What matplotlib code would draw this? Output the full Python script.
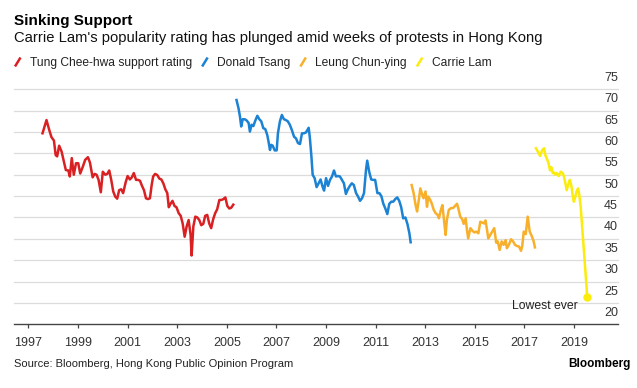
import matplotlib.pyplot as plt
from matplotlib.lines import Line2D

W, H = 637, 388

tung_years = [1997.57, 1997.73, 1997.84, 1997.93, 1998.03, 1998.10, 1998.16, 1998.24, 1998.34, 1998.43,
              1998.51, 1998.61, 1998.67, 1998.75, 1998.83, 1998.92, 1999.01, 1999.09, 1999.19, 1999.29,
              1999.40, 1999.48, 1999.59, 1999.67, 1999.75, 1999.83, 1999.92, 2000.00, 2000.10, 2000.18,
              2000.26, 2000.34, 2000.42, 2000.50, 2000.58, 2000.66, 2000.74, 2000.82, 2000.92, 2001.00,
              2001.09, 2001.17, 2001.25, 2001.34, 2001.42, 2001.50, 2001.58, 2001.66, 2001.74, 2001.82,
              2001.90, 2001.97, 2002.03, 2002.11, 2002.20, 2002.28, 2002.36, 2002.44, 2002.52, 2002.60,
              2002.66, 2002.73, 2002.81, 2002.89, 2002.97, 2003.06, 2003.14, 2003.22, 2003.30, 2003.38,
              2003.46, 2003.54, 2003.58, 2003.65, 2003.73, 2003.81, 2003.89, 2003.97, 2004.05, 2004.13,
              2004.21, 2004.29, 2004.37, 2004.45, 2004.53, 2004.61, 2004.70, 2004.78, 2004.86, 2004.94,
              2005.02, 2005.10, 2005.18, 2005.26]
tung_rating = [64.7, 67.8, 65.5, 63.8, 63.0, 59.6, 59.3, 61.8, 60.4, 58.1,
               56.1, 56.0, 54.6, 58.9, 55.0, 57.7, 57.7, 55.3, 56.8, 58.5,
               59.1, 57.9, 54.4, 55.2, 55.0, 53.8, 50.9, 55.7, 55.0, 55.2,
               56.0, 53.8, 51.1, 49.9, 49.4, 51.4, 51.6, 50.7, 53.2, 54.7,
               53.9, 54.4, 55.4, 53.8, 53.8, 53.6, 52.4, 51.4, 49.5, 49.3,
               49.5, 52.6, 54.6, 55.2, 54.9, 54.1, 53.9, 53.0, 51.6, 50.7,
               47.4, 48.2, 48.9, 47.7, 47.4, 46.0, 45.4, 43.6, 40.5, 42.9,
               44.4, 40.9, 36.1, 42.9, 45.2, 45.0, 44.4, 43.2, 43.5, 45.4,
               45.6, 43.6, 42.5, 44.6, 46.0, 46.9, 49.1, 49.1, 49.3, 49.7,
               47.7, 47.1, 47.3, 48.0]

tsang_years = [2005.39, 2005.47, 2005.53, 2005.58, 2005.64, 2005.72, 2005.80, 2005.88, 2005.93, 2006.00,
               2006.07, 2006.15, 2006.23, 2006.31, 2006.39, 2006.47, 2006.55, 2006.63, 2006.68, 2006.74,
               2006.79, 2006.85, 2006.93, 2007.01, 2007.06, 2007.14, 2007.22, 2007.30, 2007.38, 2007.46,
               2007.54, 2007.62, 2007.71, 2007.79, 2007.87, 2007.95, 2008.03, 2008.11, 2008.19, 2008.30,
               2008.35, 2008.41, 2008.46, 2008.54, 2008.62, 2008.70, 2008.78, 2008.86, 2008.92, 2009.00,
               2009.08, 2009.16, 2009.24, 2009.32, 2009.40, 2009.48, 2009.56, 2009.64, 2009.72, 2009.80,
               2009.88, 2009.96, 2010.04, 2010.12, 2010.21, 2010.29, 2010.37, 2010.45, 2010.53, 2010.61,
               2010.66, 2010.74, 2010.82, 2010.90, 2010.98, 2011.07, 2011.15, 2011.23, 2011.31, 2011.39,
               2011.47, 2011.55, 2011.63, 2011.71, 2011.79, 2011.87, 2011.95, 2012.03, 2012.11, 2012.20,
               2012.28, 2012.36, 2012.41]
tsang_rating = [72.5, 70.6, 68.6, 66.3, 68.0, 68.0, 67.7, 67.1, 65.1, 66.7,
                66.4, 67.7, 68.8, 68.0, 67.5, 65.9, 65.7, 64.3, 62.8, 60.8,
                62.0, 61.8, 60.7, 60.7, 64.7, 67.5, 69.0, 68.0, 67.8, 67.5,
                66.7, 65.5, 63.9, 63.5, 62.4, 62.2, 64.7, 64.7, 64.9, 66.0,
                63.5, 59.3, 55.0, 54.2, 52.1, 53.0, 53.9, 52.2, 51.3, 54.2,
                52.4, 53.8, 54.6, 56.0, 54.6, 54.7, 54.6, 53.8, 53.0, 50.5,
                51.6, 52.4, 53.0, 52.6, 50.7, 49.9, 48.9, 49.5, 50.7, 56.1,
                58.3, 55.7, 53.9, 53.8, 53.8, 50.7, 50.7, 50.0, 48.2, 47.1,
                45.8, 48.2, 48.7, 48.7, 49.3, 49.7, 48.9, 47.4, 44.8, 45.0,
                43.5, 41.3, 39.2]

leung_years = [2012.45, 2012.53, 2012.61, 2012.67, 2012.75, 2012.80, 2012.88, 2012.93, 2013.01, 2013.07,
               2013.12, 2013.20, 2013.26, 2013.34, 2013.42, 2013.50, 2013.55, 2013.63, 2013.69, 2013.77,
               2013.82, 2013.87, 2013.95, 2014.04, 2014.12, 2014.20, 2014.28, 2014.33, 2014.41, 2014.49,
               2014.55, 2014.63, 2014.68, 2014.73, 2014.82, 2014.90, 2014.98, 2015.06, 2015.14, 2015.22,
               2015.30, 2015.38, 2015.43, 2015.49, 2015.54, 2015.62, 2015.70, 2015.78, 2015.86, 2015.92,
               2016.00, 2016.08, 2016.16, 2016.24, 2016.29, 2016.37, 2016.46, 2016.54, 2016.62, 2016.70,
               2016.78, 2016.86, 2016.91, 2016.97, 2017.05, 2017.13, 2017.21, 2017.29, 2017.37, 2017.42]
leung_rating = [52.6, 50.7, 47.9, 46.4, 49.5, 51.8, 50.3, 49.5, 51.1, 47.5,
                49.9, 49.1, 48.3, 46.8, 46.0, 45.6, 44.8, 46.8, 47.9, 43.6,
                40.9, 44.4, 46.8, 47.2, 47.2, 47.7, 48.2, 47.2, 45.2, 44.6,
                43.5, 44.8, 42.1, 40.1, 42.5, 41.9, 41.5, 41.7, 41.3, 44.0,
                43.8, 43.6, 44.3, 42.1, 40.1, 40.9, 41.7, 42.5, 39.1, 39.4,
                37.4, 39.4, 38.6, 39.7, 37.8, 38.6, 39.9, 39.4, 38.6, 38.3,
                38.2, 37.2, 38.3, 41.7, 41.1, 45.2, 41.7, 40.7, 39.4, 38.0]

lam_years = [2017.46, 2017.54, 2017.63, 2017.71, 2017.79, 2017.84, 2017.92, 2017.97, 2018.03, 2018.08,
             2018.14, 2018.19, 2018.24, 2018.30, 2018.38, 2018.46, 2018.54, 2018.59, 2018.65, 2018.70,
             2018.78, 2018.83, 2018.89, 2018.94, 2018.99, 2019.05, 2019.10, 2019.16, 2019.21, 2019.27,
             2019.53]
lam_rating = [61.2, 60.4, 59.4, 60.7, 61.2, 59.6, 58.5, 57.7, 56.0, 56.8,
              55.4, 55.5, 55.0, 55.4, 54.7, 55.7, 55.4, 54.6, 53.0, 51.4,
              53.0, 53.8, 52.4, 50.3, 48.7, 49.9, 51.1, 51.8, 50.3, 47.2,
              26.5]

series_labels = ['Tung Chee-hwa support rating', 'Donald Tsang', 'Leung Chun-ying', 'Carrie Lam']
series_colors = ['#d92124', '#1b82d4', '#f8b02c', '#fbec0c']
y_ticks = [20, 25, 30, 35, 40, 45, 50, 55, 60, 65, 70, 75]
x_ticks = list(range(1997, 2020, 2))


def fx(x):
    return x / W


def fy(y):
    return 1 - y / H


def main():
    plt.rcParams['font.family'] = ['Liberation Sans', 'DejaVu Sans']
    fig = plt.figure(figsize=(W / 100, H / 100), dpi=100)
    ax = fig.add_axes([fx(14), fy(324.3), (618 - 14) / W, 235 / H])

    data = [(tung_years, tung_rating), (tsang_years, tsang_rating),
            (leung_years, leung_rating), (lam_years, lam_rating)]
    for (xs, ys), c in zip(data, series_colors):
        ax.plot(xs, ys, color=c, lw=1.8, solid_joinstyle='round', zorder=3)
    ax.plot(lam_years[-1], lam_rating[-1], 'o', color=series_colors[3], ms=5, zorder=4)
    ax.text(2019.16, 24.3, 'Lowest ever', ha='right', va='center', fontsize=8.8, color='#222222')

    ax.set_xlim(1996.42, 2020.77)
    ax.set_ylim(20, 75)
    for v in y_ticks:
        if v > 20:
            ax.axhline(v, color='#dcdcdc', lw=0.9, zorder=1, clip_on=False)
        ax.annotate(str(v), (1, v), xycoords=('axes fraction', 'data'),
                    xytext=(0, 8.2), textcoords='offset points',
                    ha='right', va='center', fontsize=9, color='#333333')

    for s in ['top', 'right', 'left']:
        ax.spines[s].set_visible(False)
    ax.spines['bottom'].set_color('#444444')
    ax.spines['bottom'].set_linewidth(1.0)
    ax.set_yticks([])
    ax.set_xticks(x_ticks)
    ax.set_xticklabels([str(t) for t in x_ticks])
    ax.tick_params(axis='x', direction='out', length=3, width=0.9, color='#444444',
                   labelsize=9, labelcolor='#333333', pad=6)

    fig.text(fx(14), fy(25), 'Sinking Support', fontsize=11, fontweight='bold',
             va='baseline', color='#000000')
    fig.text(fx(14), fy(41.7), "Carrie Lam's popularity rating has plunged amid weeks "
             "of protests in Hong Kong", fontsize=10.6, va='baseline', color='#111111')

    # legend row
    renderer = fig.canvas.get_renderer()
    x = 15
    for lab, c in zip(series_labels, series_colors):
        fig.add_artist(Line2D([fx(x), fx(x + 5.5)], [fy(66.5), fy(57.5)], color=c, lw=1.8,
                              transform=fig.transFigure, solid_capstyle='butt'))
        t = fig.text(fx(x + 15), fy(66), lab, fontsize=8.65, va='baseline', color='#222222')
        bb = t.get_window_extent(renderer)
        x = bb.x1 + 10

    fig.text(fx(14), fy(367), 'Source: Bloomberg, Hong Kong Public Opinion Program',
             fontsize=8, va='baseline', color='#222222')
    fig.text(fx(631), fy(367), 'Bloomberg', fontsize=8.5, fontweight='bold',
             ha='right', va='baseline', color='#000000')

    fig.savefig('out.png', dpi=100)


if __name__ == '__main__':
    main()
